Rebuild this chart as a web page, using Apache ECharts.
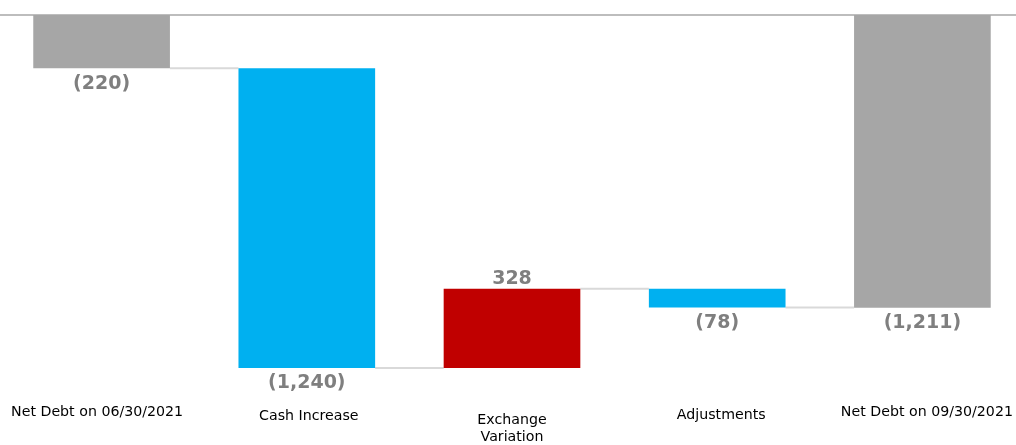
<!DOCTYPE html>
<html>
<head>
<meta charset="utf-8">
<script src="https://cdn.jsdelivr.net/npm/echarts@6/dist/echarts.min.js"></script>
<style>
html,body{margin:0;padding:0;background:#fff;}
#chart{width:1016px;height:445px;}
</style>
</head>
<body>
<div id="chart"></div>
<script>
const categories = ['Net Debt on 06/30/2021', 'Cash Increase', 'Exchange\nVariation', 'Adjustments', 'Net Debt on 09/30/2021'];
const values = [-220, -1240, 328, -78, -1211];
const kinds = ['total', 'delta', 'delta', 'delta', 'total'];
const colors = { total: '#a6a6a6', down: '#00b0f0', up: '#c00000' };

// build waterfall pieces from the values
const base = [], visible = [], levels = [];
let cum = 0;
values.forEach((v, i) => {
  if (kinds[i] === 'total') {
    base.push(0);
    visible.push(v);
    cum = v;
  } else if (v < 0) {
    base.push(cum);
    visible.push(v);
    cum = cum + v;
  } else {
    base.push(cum + v);
    visible.push(-v);
    cum = cum + v;
  }
  levels.push(cum);
});
const connectors = levels.slice(0, -1).map((l, i) => [i, l]);

function fmt(v) {
  const s = Math.abs(v).toLocaleString('en-US');
  return v < 0 ? '(' + s + ')' : s;
}

const visData = visible.map((v, i) => {
  const up = kinds[i] === 'delta' && values[i] > 0;
  const c = kinds[i] === 'total' ? colors.total : (up ? colors.up : colors.down);
  return {
    value: v,
    itemStyle: { color: c },
    label: { position: up ? 'top' : 'bottom', distance: up ? 0 : 6, formatter: fmt(values[i]) }
  };
});

const F = { fontFamily: 'DejaVu Sans', fontSize: 14.2, color: '#000' };

const chart = echarts.init(document.getElementById('chart'));
chart.setOption({
  animation: false,
  grid: { left: -1, top: 15, width: 1026, height: 353, outerBoundsMode: 'none', containLabel: false },
  xAxis: [{
    type: 'category',
    data: categories,
    position: 'bottom',
    axisLine: { show: false },
    axisTick: { show: false },
    axisLabel: {
      interval: 0,
      margin: 0,
      fontFamily: 'DejaVu Sans',
      fontSize: 14.2,
      color: '#000',
      formatter: function (val, idx) {
        if (idx === 2) {
          const parts = val.split('\n');
          return '{sp| }\n{c2|' + parts[0] + '}\n{c2|' + parts[1] + '}';
        }
        return '{c' + idx + '|' + val + '}';
      },
      rich: {
        sp: Object.assign({}, F, { lineHeight: 44 }),
        c0: Object.assign({}, F, { lineHeight: 88, padding: [0, 9, 0, 0] }),
        c1: Object.assign({}, F, { lineHeight: 96, padding: [0, 0, 0, 4] }),
        c2: Object.assign({}, F, { lineHeight: 17 }),
        c3: Object.assign({}, F, { lineHeight: 94, padding: [0, 0, 0, 8] }),
        c4: Object.assign({}, F, { lineHeight: 88, padding: [0, 0, 0, 9] })
      }
    }
  }, {
    type: 'category',
    data: categories,
    position: 'top',
    axisLine: { show: true, lineStyle: { color: '#bdbdbd', width: 2 } },
    axisTick: { show: false },
    axisLabel: { show: false }
  }],
  yAxis: {
    type: 'value',
    min: -1460,
    max: 0,
    show: false,
    splitLine: { show: false }
  },
  series: [{
    type: 'custom',
    xAxisIndex: 0,
    data: connectors,
    encode: { x: 0, y: 1 },
    z: 1,
    renderItem: function (params, api) {
      const i = api.value(0), v = api.value(1);
      const p0 = api.coord([i, v]);
      const p1 = api.coord([i + 1, v]);
      const half = api.size([1, 0])[0] * 0.333;
      return {
        type: 'line',
        shape: { x1: p0[0] + half, y1: p0[1], x2: p1[0] - half, y2: p1[1] },
        style: { stroke: '#d9d9d9', lineWidth: 2 }
      };
    }
  }, {
    type: 'bar',
    stack: 'wf',
    data: base,
    barWidth: '66.6%',
    itemStyle: { color: 'transparent' },
    emphasis: { disabled: true },
    z: 2
  }, {
    type: 'bar',
    stack: 'wf',
    data: visData,
    barWidth: '66.6%',
    z: 3,
    label: {
      show: true,
      fontFamily: 'DejaVu Sans',
      fontWeight: 'bold',
      fontSize: 19,
      color: '#7f7f7f'
    }
  }]
});
</script>
</body>
</html>
